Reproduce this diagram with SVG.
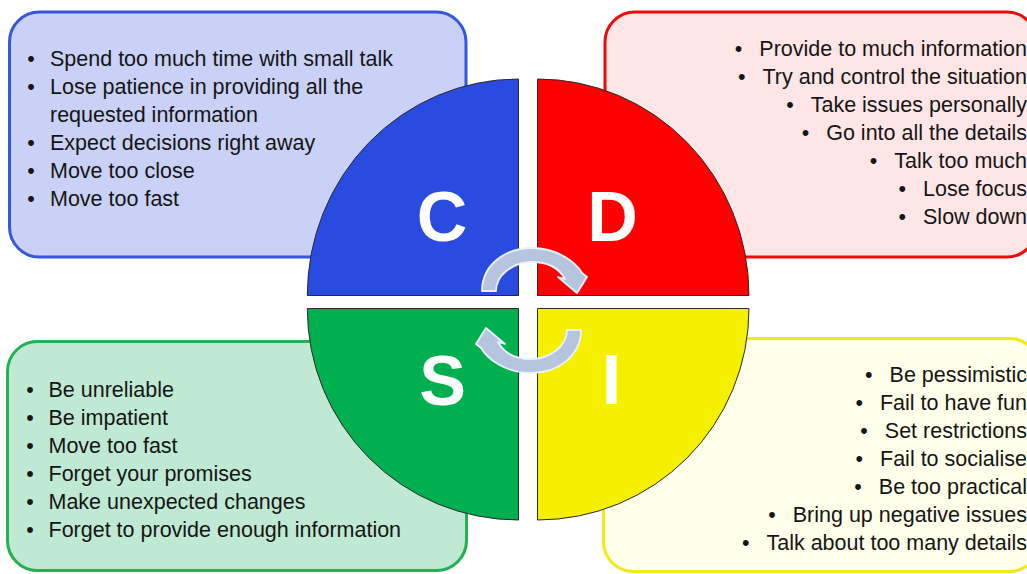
<svg xmlns="http://www.w3.org/2000/svg" width="1027" height="574" viewBox="0 0 1027 574">
<style>
.t{font-family:"Liberation Sans",Arial,sans-serif;font-size:21.5px;fill:#151515}
.b{text-anchor:middle}
.r{text-anchor:end}
.q{stroke:#2a2a2a;stroke-width:1}
.L{font-family:"Liberation Sans",Arial,sans-serif;font-size:70px;font-weight:bold;fill:#fff;text-anchor:middle}
.arr{fill:#B5C5DE;stroke:#EDF1F8;stroke-width:1.8;stroke-linejoin:round}
</style>
<rect width="1027" height="574" fill="#fff"/>
<g id="box-c">
<rect x="9.5" y="12" width="456.5" height="245" rx="30" fill="#C9D1F6" stroke="#3557DA" stroke-width="3"/>
<text class="t b" x="31" y="65.5">•</text><text class="t" x="50" y="65.5">Spend too much time with small talk</text>
<text class="t b" x="31" y="93.5">•</text><text class="t" x="50" y="93.5">Lose patience in providing all the</text>
<text class="t" x="50" y="121.5">requested information</text>
<text class="t b" x="31" y="149.5">•</text><text class="t" x="50" y="149.5">Expect decisions right away</text>
<text class="t b" x="31" y="177.5">•</text><text class="t" x="50" y="177.5">Move too close</text>
<text class="t b" x="31" y="205.5">•</text><text class="t" x="50" y="205.5">Move too fast</text>
</g>
<g id="box-d">
<rect x="605" y="12" width="432" height="245" rx="30" fill="#FFE6E6" stroke="#EE0A0A" stroke-width="3"/>
<text class="t r" x="1027" y="55.5">•<tspan dx="17">Provide to much information</tspan></text>
<text class="t r" x="1027" y="83.5">•<tspan dx="17">Try and control the situation</tspan></text>
<text class="t r" x="1027" y="111.5">•<tspan dx="17">Take issues personally</tspan></text>
<text class="t r" x="1027" y="139.5">•<tspan dx="17">Go into all the details</tspan></text>
<text class="t r" x="1027" y="167.5">•<tspan dx="17">Talk too much</tspan></text>
<text class="t r" x="1027" y="195.5">•<tspan dx="17">Lose focus</tspan></text>
<text class="t r" x="1027" y="223.5">•<tspan dx="17">Slow down</tspan></text>
</g>
<g id="box-s">
<rect x="7.5" y="341.5" width="459" height="229" rx="30" fill="#BFE9D3" stroke="#22B052" stroke-width="3"/>
<text class="t b" x="30" y="396.5">•</text><text class="t" x="48.5" y="396.5">Be unreliable</text>
<text class="t b" x="30" y="424.5">•</text><text class="t" x="48.5" y="424.5">Be impatient</text>
<text class="t b" x="30" y="452.5">•</text><text class="t" x="48.5" y="452.5">Move too fast</text>
<text class="t b" x="30" y="480.5">•</text><text class="t" x="48.5" y="480.5">Forget your promises</text>
<text class="t b" x="30" y="508.5">•</text><text class="t" x="48.5" y="508.5">Make unexpected changes</text>
<text class="t b" x="30" y="536.5">•</text><text class="t" x="48.5" y="536.5">Forget to provide enough information</text>
</g>
<g id="box-i">
<rect x="603.5" y="338.5" width="436" height="233" rx="30" fill="#FFFFEA" stroke="#F1E91C" stroke-width="3"/>
<text class="t r" x="1027" y="381.5">•<tspan dx="17">Be pessimistic</tspan></text>
<text class="t r" x="1027" y="409.5">•<tspan dx="17">Fail to have fun</tspan></text>
<text class="t r" x="1027" y="437.5">•<tspan dx="17">Set restrictions</tspan></text>
<text class="t r" x="1027" y="465.5">•<tspan dx="17">Fail to socialise</tspan></text>
<text class="t r" x="1027" y="493.5">•<tspan dx="17">Be too practical</tspan></text>
<text class="t r" x="1027" y="521.5">•<tspan dx="17">Bring up negative issues</tspan></text>
<text class="t r" x="1027" y="549.5">•<tspan dx="17">Talk about too many details</tspan></text>
</g>
<g id="quad-c">
<path class="q" d="M518.5,295.5 H307.3 A211.2,216.5 0 0 1 518.5,79 Z" fill="#2A4BE0"/>
<text class="L" x="442" y="241">C</text>
</g>
<g id="quad-d">
<path class="q" d="M537.5,295.5 V79 A211.5,216.5 0 0 1 749,295.5 Z" fill="#FF0000"/>
<text class="L" x="612.5" y="240.5">D</text>
</g>
<g id="quad-s">
<path class="q" d="M518.5,308.5 V520 A211.2,211.5 0 0 1 307.3,308.5 Z" fill="#00AF50"/>
<text class="L" x="442.5" y="405">S</text>
</g>
<g id="quad-i">
<path class="q" d="M537.5,308.5 H749 A211.5,211.5 0 0 1 537.5,520 Z" fill="#F5EF00"/>
<text class="L" x="611.5" y="403.5">I</text>
</g>
<g id="connectors">
<path id="arrow-cd" class="arr" d="M482,291 C482,265 505,248 532,248 C556,248 575,261 582,273 L587,277 L577,293 L558,277 L565,279 C559,268 547,262 532,262 C513,262 496,275 496,291 Z"/>
<path id="arrow-is" class="arr" transform="rotate(180 531.5 310.5)" d="M482,291 C482,265 505,248 532,248 C556,248 575,261 582,273 L587,277 L577,293 L558,277 L565,279 C559,268 547,262 532,262 C513,262 496,275 496,291 Z"/>
</g>
</svg>
